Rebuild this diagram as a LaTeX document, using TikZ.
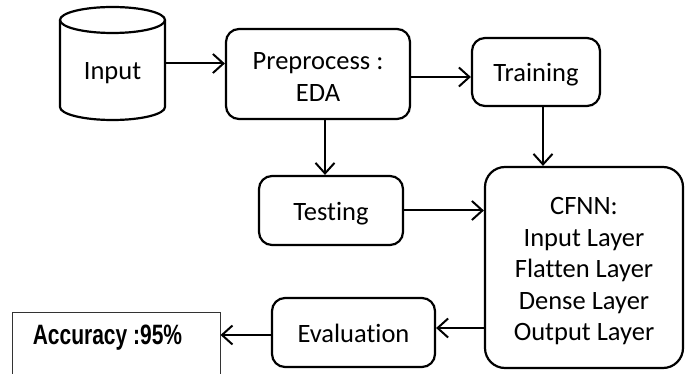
\documentclass[tikz,border=0pt]{standalone}
\usepackage{fontspec}
\setmainfont{Carlito}[Ligatures=NoCommon]
\newfontfamily\accfont{Liberation Sans}
\usetikzlibrary{arrows.meta}
\begin{document}
\begin{tikzpicture}[x=1pt,y=-1pt,
  txt/.style={align=center, inner sep=0pt, font=\fontsize{26.5}{31.5}\selectfont},
  box/.style={txt, draw=black, line width=2.2pt, rounded corners=13pt, fill=white},
  single/.style={text height=21pt, text depth=2pt},
  arr/.style={draw=black, line width=2pt,
    -{Straight Barb[length=10.5pt,width=19pt,line width=2pt]}}]
\useasboundingbox (0,0) rectangle (685,374);

% database cylinder
\begin{scope}[line width=2.2pt]
  \draw (60,20) -- (60,107) arc[start angle=180, end angle=360, x radius=52.5pt, y radius=13pt] -- (165,20);
  \draw (112.5,20) ellipse [x radius=52.5pt, y radius=13pt];
\end{scope}
\node[minimum width=105pt, minimum height=113pt, inner sep=0pt] (input) at (112.5,63.5) {};
\node[txt, single] (inputlbl) at (112.5,70) {Input};

% process boxes
\node[box, minimum width=184pt, minimum height=90pt] (pre) at (318,74) {};
\node[txt] (prelbl) at (318,77) {Preprocess :\\[1pt]EDA};
\node[box, single, minimum width=128pt, minimum height=68pt] (train) at (536,72) {Training};
\node[box, single, minimum width=144pt, minimum height=69pt] (test) at (331,210.5) {Testing};
\node[box, minimum width=198pt, minimum height=201pt, rounded corners=20pt] (cfnn) at (584,267.5) {};
\node[txt] (cfnnlbl) at (584,271.5)
  {CFNN:\\Input Layer\\Flatten Layer\\Dense Layer\\Output Layer};
\node[box, single, minimum width=163pt, minimum height=69pt] (eval) at (353.5,332.5) {Evaluation};

% result box
\node[draw=black!80, line width=1pt, minimum width=208pt, minimum height=70pt, inner sep=0pt]
  (acc) at (116,347) {};
\node[font=\accfont\bfseries\fontsize{28}{30}\selectfont] (acctext) at (107.5,338)
  {\scalebox{0.75}[1]{Accuracy :95\%}};

% connector start points
\coordinate (preR) at ([yshift=-3pt]pre.east);
\coordinate (preB) at ([xshift=7pt]pre.south);
\coordinate (trainB) at ([xshift=7pt]train.south);
\coordinate (evalR) at ([yshift=4.5pt]eval.east);
\coordinate (evalL) at ([yshift=-2.5pt]eval.west);

% connectors
\draw[arr] (input.east) -- (pre.west |- input.east);
\draw[arr] (preR) -- (train.west |- preR);
\draw[arr] (preB) -- (test.north -| preB);
\draw[arr] (trainB) -- (cfnn.north -| trainB);
\draw[arr] (test.east) -- (cfnn.west |- test.east);
\draw[arr] (cfnn.west |- evalR) -- (evalR);
\draw[arr] (evalL) -- (acc.east |- evalL);
\end{tikzpicture}
\end{document}
